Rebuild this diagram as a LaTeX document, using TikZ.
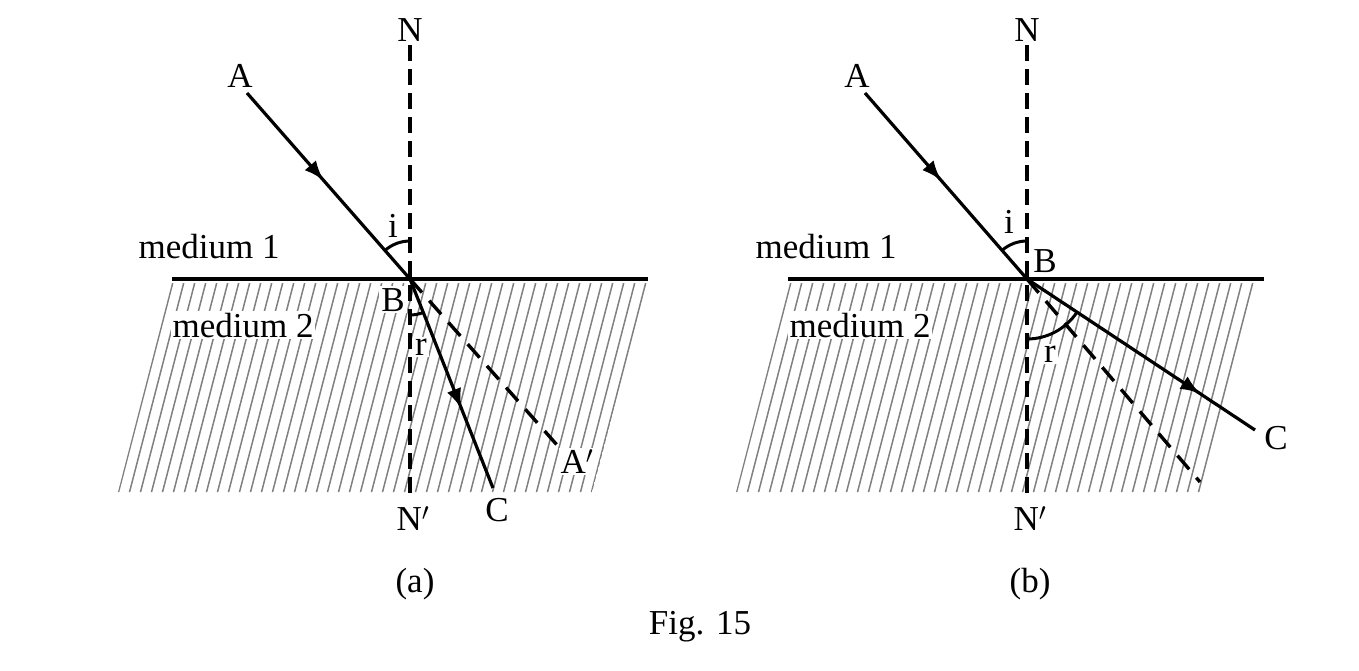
\documentclass[tikz,border=0pt]{standalone}
\usepackage{fontspec}
\setmainfont{Liberation Serif}
\usetikzlibrary{arrows.meta,decorations.markings}
\begin{document}
\begin{tikzpicture}[x=1pt,y=-1pt,
  lbl/.style={font=\fontsize{35}{40}\selectfont, inner sep=0pt, anchor=base},
  wlbl/.style={lbl, fill=white, inner sep=2pt},
  hatchline/.style={line width=1.5pt, draw=black!50},
  surface/.style={line width=4.6pt},
  ray/.style={line width=3.2pt},
  normalline/.style={line width=4pt, dash pattern=on 16pt off 8pt},
  extline/.style={line width=3.4pt, dash pattern=on 18pt off 11pt},
  anglearc/.style={line width=3pt},
  arrowat/.style={postaction={decorate}, decoration={markings,
     mark=at position #1 with {\arrow{Latex[length=20pt,width=15pt]}}}}
]
\useasboundingbox (0,0) rectangle (1359,670);

% ---------- panel (a) ----------
\coordinate (Ba) at (410,279);
\coordinate (Na) at (410,45);
\coordinate (Npa) at (410,496);
\coordinate (Aa) at (247,93);
\coordinate (Ca) at (493,488);
\coordinate (Apa) at (557,445);
\coordinate (La) at (172,279);
\coordinate (Ra) at (648,279);

\begin{scope}
  \clip (172,283) -- (648,283) -- (592,492) -- (118,492) -- cycle;
  \foreach \k in {-6,...,50} \draw[hatchline] (118+11*\k,494) -- ++(56,-216);
\end{scope}

\node[lbl] (ma1) at (209,258) {medium 1};
\node[wlbl] (ma2) at (243,337) {medium 2};
\node[wlbl] (Bla) at (393,311) {B};
\node[wlbl] (rla) at (421,355) {r};
\node[lbl] (ila) at (393,237) {i};
\node[lbl] (NLa) at (410,41) {N};
\node[lbl] (NpLa) at (413,530) {N$'$};
\node[lbl] (CLa) at (497,521) {C};
\node[wlbl] (ApLa) at (577,473) {A$'$};
\node[lbl] (ALa) at (240,87) {A};
\node[lbl] (capa) at (415,592) {(a)};

\draw[surface] (La) -- (Ra);
\draw[normalline] (Na) -- (Npa);
\draw[extline] (Ba) -- (Apa);
\draw[ray, arrowat=0.47] (Aa) -- (Ba);
\draw[ray, arrowat=0.62] (Ba) -- (Ca);
\draw[anglearc] (Ba) ++(-90:38) arc[start angle=-90, end angle=-131.5, radius=38];
\draw[anglearc] (Ba) ++(90:36) arc[start angle=90, end angle=68.3, radius=36];

% ---------- panel (b) ----------
\coordinate (Bb) at (1027,279);
\coordinate (Nb) at (1027,45);
\coordinate (Npb) at (1027,496);
\coordinate (Ab) at (865,93);
\coordinate (Cb) at (1255,430);
\coordinate (Db) at (1200,482);
\coordinate (Lb) at (788,279);
\coordinate (Rb) at (1264,279);

\begin{scope}
  \clip (790,283) -- (1262,283) -- (1207,492) -- (736,492) -- cycle;
  \foreach \k in {-6,...,50} \draw[hatchline] (736+11*\k,494) -- ++(56,-216);
\end{scope}

\node[lbl] (mb1) at (826,258) {medium 1};
\node[wlbl] (mb2) at (860,337) {medium 2};
\node[lbl] (Blb) at (1045,272) {B};
\node[wlbl] (rlb) at (1050,362) {r};
\node[lbl] (ilb) at (1009,233) {i};
\node[lbl] (NLb) at (1027,41) {N};
\node[lbl] (NpLb) at (1030,530) {N$'$};
\node[lbl] (CLb) at (1276,449) {C};
\node[lbl] (ALb) at (857,87) {A};
\node[lbl] (capb) at (1030,592) {(b)};

\draw[surface] (Lb) -- (Rb);
\draw[normalline] (Nb) -- (Npb);
\draw[extline] (Bb) -- (Db);
\draw[ray, arrowat=0.47] (Ab) -- (Bb);
\draw[ray, arrowat=0.76] (Bb) -- (Cb);
\draw[anglearc] (Bb) ++(-90:38) arc[start angle=-90, end angle=-131, radius=38];
\draw[anglearc] (Bb) ++(90:60) arc[start angle=90, end angle=33.5, radius=60];

\node[lbl] (fig) at (700,634) {Fig. 15};
\end{tikzpicture}
\end{document}
